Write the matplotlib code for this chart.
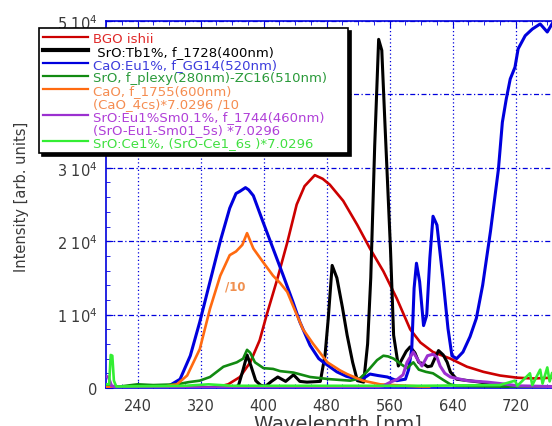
import matplotlib
matplotlib.use("Agg")
import matplotlib.pyplot as plt
from matplotlib.lines import Line2D
from matplotlib.ticker import FixedLocator, MultipleLocator, FuncFormatter

plt.rcParams["font.family"] = ["DejaVu Sans"]
plt.rcParams["mathtext.fontset"] = "dejavusans"

# --- data (wavelength nm, intensity arb. units) ---
bgo_wl = [200, 300, 330, 340, 355, 370, 383, 395, 404, 417, 430, 442, 452, 465, 475,
          484, 501, 519, 535, 552, 569, 586, 599, 615, 637, 658, 679, 700, 722, 742, 766]
bgo_i = [50, 50, 60, 100, 500, 1500, 3500, 6500, 10000, 14700, 19800, 25000, 27500, 29000, 28500,
         27700, 25500, 22200, 19000, 15900, 12200, 8000, 6200, 4900, 4000, 2900, 2200, 1700, 1400, 1300, 1400]

tb_wl = [200, 300, 360, 368, 374, 379, 384, 390, 396, 402, 410, 418, 428, 438, 446, 455, 472,
         478, 482, 487, 493, 500, 506, 513, 519, 527, 532, 536, 541, 546, 550, 554, 561, 565,
         571, 576, 581, 586, 592, 597, 603, 608, 613, 618, 622, 628, 633, 637, 645, 660, 675,
         690, 700, 710]
tb_i = [100, 50, 50, 300, 2500, 4500, 3000, 1000, 400, 200, 900, 1500, 900, 1800, 900, 800, 900,
        4500, 9400, 16700, 15000, 11000, 7200, 3500, 1000, 800, 6000, 15000, 33000, 47500, 46000,
        36000, 19000, 7200, 3000, 4000, 5000, 5600, 4800, 3500, 3300, 2900, 3000, 4200, 5100,
        4500, 3500, 2200, 1200, 1000, 800, 500, 300, 200]

eu_wl = [200, 205, 215, 270, 280, 294, 307, 319, 332, 345, 357, 365, 370, 377, 381, 387, 399,
         412, 425, 437, 446, 459, 470, 476, 493, 505, 519, 528, 535, 545, 557, 569, 580, 584,
         588, 591, 594, 598, 603, 607, 611, 615, 620, 628, 634, 639, 645, 653, 662, 670, 678,
         688, 698, 703, 708, 713, 719, 723, 732, 741, 751, 760, 766]
eu_i = [300, 200, 100, 100, 300, 1200, 4400, 9000, 14500, 20000, 24500, 26500, 26800, 27300,
        27000, 26200, 22700, 19000, 15300, 11800, 9000, 5800, 4000, 3500, 2200, 1600, 1200, 1400,
        1900, 1700, 1500, 1000, 1200, 2500, 5300, 13600, 17000, 14500, 8500, 9900, 17700, 23400,
        22200, 14500, 8100, 4400, 4000, 4900, 7000, 9500, 14000, 21400, 29800, 36200, 39400,
        42100, 43700, 46200, 48000, 48900, 49600, 48500, 49600]

plexy_wl = [200, 210, 225, 240, 260, 290, 305, 319, 332, 349, 366, 374, 379, 383, 389, 400,
            412, 421, 438, 459, 484, 510, 522, 531, 544, 552, 558, 565, 575, 582, 590, 597, 606,
            615, 628, 637, 645, 700, 766]
plexy_i = [300, 100, 300, 500, 400, 500, 800, 1000, 1500, 2900, 3500, 4000, 5200, 4800, 3500,
           2700, 2600, 2300, 2100, 1500, 1200, 1000, 1300, 2200, 3800, 4400, 4300, 4000, 3200,
           2700, 3500, 2500, 2200, 2000, 1100, 500, 300, 200, 200]

cao_wl = [200, 270, 290, 303, 319, 332, 345, 357, 365, 373, 379, 387, 399, 412, 421, 430, 442,
          450, 463, 481, 497, 506, 519, 526, 548, 582, 600, 610]
cao_i = [100, 100, 500, 1700, 5300, 10800, 15300, 18100, 18600, 19500, 21100, 19000, 17200,
         15300, 14300, 13100, 10000, 8000, 6000, 3500, 2400, 1900, 1300, 1000, 500, 300, 200, 200]

sm_wl = [200, 203, 207, 215, 300, 500, 539, 552, 561, 570, 577, 582, 590, 596, 601, 608, 615,
         620, 624, 630, 637, 658, 684, 709, 722, 766]
sm_i = [1600, 1500, 300, 100, 50, 50, 100, 300, 800, 1200, 1800, 3500, 4900, 3800, 3000, 4400,
        4600, 4200, 3000, 2000, 1500, 1000, 800, 500, 300, 200]

ce_wl = [200, 204, 206, 208, 210, 213, 300, 330, 360, 400, 500, 600, 700, 719, 722, 738, 741,
         751, 754, 760, 763, 766]
ce_i = [500, 500, 4500, 4400, 1000, 200, 300, 500, 300, 300, 300, 300, 400, 1000, 300, 2000,
        400, 2500, 600, 2800, 900, 2000]

x_ticks = [240, 320, 400, 480, 560, 640, 720]
y_ticks = [0, 10000, 20000, 30000, 40000, 50000]

legend_rows = [
    ("BGO ishii", "#cc0000", "#e02828", 1.6),
    (" SrO:Tb1%, f_1728(400nm)", "black", "black", 3.0),
    ("CaO:Eu1%, f_GG14(520nm)", "#0000dd", "#3c3cdc", 1.6),
    ("SrO, f_plexy(280nm)-ZC16(510nm)", "#118a11", "#2a9a3a", 1.6),
    ("CaO, f_1755(600nm)", "#ff6a10", "#f58c50", 1.6),
    ("(CaO_4cs)*7.0296 /10", None, "#f58c50", 0),
    ("SrO:Eu1%Sm0.1%, f_1744(460nm)", "#9b30d0", "#b040d8", 1.6),
    ("(SrO-Eu1-Sm01_5s) *7.0296", None, "#b040d8", 0),
    ("SrO:Ce1%, (SrO-Ce1_6s )*7.0296", "#33ee33", "#40e040", 1.6),
]

blue = "#0000dd"

fig = plt.figure(figsize=(5.52, 4.27), dpi=100)
ax = fig.add_axes([106 / 552, 38 / 427, 446 / 552, 367 / 427])

ax.plot(bgo_wl, bgo_i, color="#cc0000", lw=1.9, zorder=3)
ax.plot(tb_wl, tb_i, color="black", lw=2.2, zorder=3)
ax.plot(eu_wl, eu_i, color="#0000dd", lw=2.2, zorder=3)
ax.plot(plexy_wl, plexy_i, color="#118a11", lw=1.9, zorder=3)
ax.plot(cao_wl, cao_i, color="#ff6a10", lw=1.9, zorder=3)
ax.plot(sm_wl, sm_i, color="#9b30d0", lw=2.2, zorder=3)
ax.plot(ce_wl, ce_i, color="#33ee33", lw=1.9, zorder=3)

ax.text(364, 13900, "/10", color="#f09050", fontsize=8.5, fontweight="bold",
        ha="center", va="center", zorder=4)

ax.set_xlim(200, 766)
ax.set_ylim(0, 50000)

ax.xaxis.set_major_locator(FixedLocator(x_ticks))
ax.xaxis.set_minor_locator(MultipleLocator(20))
ax.yaxis.set_major_locator(FixedLocator(y_ticks))
ax.yaxis.set_minor_locator(MultipleLocator(2000))


def fmt_y(v, pos):
    if v == 0:
        return "0"
    return "%d 10$^{4}$" % round(v / 10000)


ax.yaxis.set_major_formatter(FuncFormatter(fmt_y))

ax.tick_params(which="both", direction="in", color=blue, top=True, right=False,
               labelcolor="#3a3a3a", labelsize=10.5)
ax.tick_params(axis="x", which="major", length=5, pad=7.5)
ax.tick_params(axis="y", which="major", length=5, pad=6)
ax.tick_params(which="minor", length=3)

ax.grid(axis="x", which="major", color=blue, linestyle=(0, (1, 2)), linewidth=0.9)
ax.grid(axis="y", which="major", color=blue, linestyle=(0, (4, 2, 1, 2)), linewidth=0.9)
ax.set_axisbelow(True)

for side in ["left", "top", "bottom"]:
    ax.spines[side].set_color(blue)
    ax.spines[side].set_linewidth(1.2)
ax.spines["right"].set_visible(False)

fig.text(338 / 552, -0.008, "Wavelength [nm]", fontsize=14, color="#3a3a3a",
         ha="center", va="baseline")
fig.text(22 / 552, 1 - 197 / 427, "Intensity [arb. units]", fontsize=10.5, color="#3a3a3a",
         rotation=90, ha="center", va="center")

handles = []
for label, lc, tc, lw in legend_rows:
    if lc is None:
        handles.append(Line2D([], [], color="none", lw=0))
    else:
        handles.append(Line2D([], [], color=lc, lw=lw))

# legend frame: x 39..348 px, y 29..155 px
leg = ax.legend(handles, [r[0] for r in legend_rows], loc="upper left", mode="expand",
                bbox_to_anchor=(39 / 552, 1 - 155 / 427, 309 / 552, 126 / 427),
                bbox_transform=fig.transFigure,
                borderaxespad=0, fontsize=9.5, handlelength=3.4, handletextpad=0.4,
                labelspacing=0.0, borderpad=0.3, fancybox=False, framealpha=1,
                edgecolor="black", shadow={"color": "black", "alpha": 1})
leg.get_frame().set_linewidth(1.2)
for txt, row in zip(leg.get_texts(), legend_rows):
    txt.set_color(row[2])

fig.savefig("out.png", dpi=100)
